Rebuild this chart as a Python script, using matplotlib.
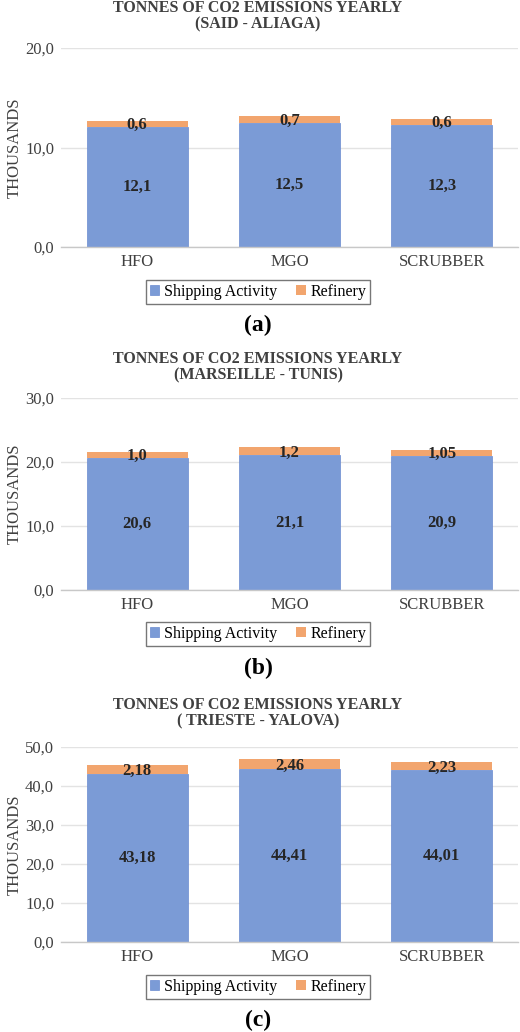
import matplotlib.pyplot as plt
import numpy as np

plt.rcParams['font.family'] = ['Liberation Serif', 'DejaVu Serif']

categories = ['HFO', 'MGO', 'SCRUBBER']
titles = ['TONNES OF CO2 EMISSIONS YEARLY\n(SAID - ALIAGA)',
          'TONNES OF CO2 EMISSIONS YEARLY\n(MARSEILLE - TUNIS)',
          'TONNES OF CO2 EMISSIONS YEARLY\n( TRIESTE - YALOVA)']
shipping = [[12.1, 12.5, 12.3], [20.6, 21.1, 20.9], [43.18, 44.41, 44.01]]
refinery = [[0.6, 0.7, 0.6], [1.0, 1.2, 1.05], [2.18, 2.46, 2.23]]
ship_labels = [['12,1', '12,5', '12,3'], ['20,6', '21,1', '20,9'], ['43,18', '44,41', '44,01']]
ref_labels = [['0,6', '0,7', '0,6'], ['1,0', '1,2', '1,05'], ['2,18', '2,46', '2,23']]
ymax = [20, 30, 50]
ystep = [10, 10, 10]
panel_tags = ['(a)', '(b)', '(c)']

W, H = 520, 1032
# pixel layout: axes top, axes bottom, title y, legend y, tag y
boxes = [(48, 247, 16, 292, 325), (398, 590, 367, 634, 668), (747, 942, 713, 987, 1020)]
left, right = 61, 518
cx = 258

fig = plt.figure(figsize=(W / 100, H / 100), dpi=100)
blue = '#7b9bd6'
orange = '#f2a56e'

for i in range(3):
    top, bot, tiy, ly, ty = boxes[i]
    ax = fig.add_axes([left / W, 1 - bot / H, (right - left) / W, (bot - top) / H])
    x = np.arange(len(categories))
    b1 = ax.bar(x, shipping[i], width=0.665, color=blue, edgecolor='#6a8ad0', linewidth=0.5, label='Shipping Activity')
    b2 = ax.bar(x, refinery[i], bottom=shipping[i], width=0.665, color=orange, label='Refinery')
    for j in range(3):
        ax.text(x[j], shipping[i][j] / 2, ship_labels[i][j], ha='center', va='center',
                fontsize=12, fontweight='bold', color='#262626')
        ax.text(x[j], shipping[i][j] + refinery[i][j] * 0.3, ref_labels[i][j], ha='center', va='center',
                fontsize=12, fontweight='bold', color='#262626')
    ax.set_xlim(-0.5, 2.5)
    ax.set_ylim(0, ymax[i])
    ticks = np.arange(0, ymax[i] + 0.1, ystep[i])
    ax.set_yticks(ticks)
    ax.set_yticklabels([f'{t:.1f}'.replace('.', ',') for t in ticks], fontsize=12, color='#404040')
    ax.set_xticks(x)
    ax.set_xticklabels(categories, fontsize=12, color='#404040')
    ax.tick_params(length=0, pad=5)
    ax.yaxis.grid(True, color='#e3e3e3', linewidth=1.0)
    ax.set_axisbelow(True)
    for s in ['top', 'right', 'left']:
        ax.spines[s].set_visible(False)
    ax.spines['bottom'].set_color('#c8c8c8')
    ax.spines['bottom'].set_linewidth(1.0)
    ax.set_ylabel('THOUSANDS', fontsize=12, color='#404040', labelpad=2)
    fig.text(cx / W, 1 - tiy / H, titles[i], ha='center', va='center',
             fontsize=11.5, fontweight='bold', color='#404040', linespacing=1.05)
    fig.legend(handles=[b1, b2], loc='center', bbox_to_anchor=(cx / W, 1 - ly / H), ncol=2,
               fontsize=11.5, frameon=True, edgecolor='#555555', fancybox=False,
               handlelength=0.6, handleheight=0.6, columnspacing=1.2, handletextpad=0.3,
               borderpad=0.25)
    fig.text(cx / W, 1 - ty / H, panel_tags[i], ha='center', va='center', fontsize=17, fontweight='bold')

fig.savefig('out.png', dpi=100)
